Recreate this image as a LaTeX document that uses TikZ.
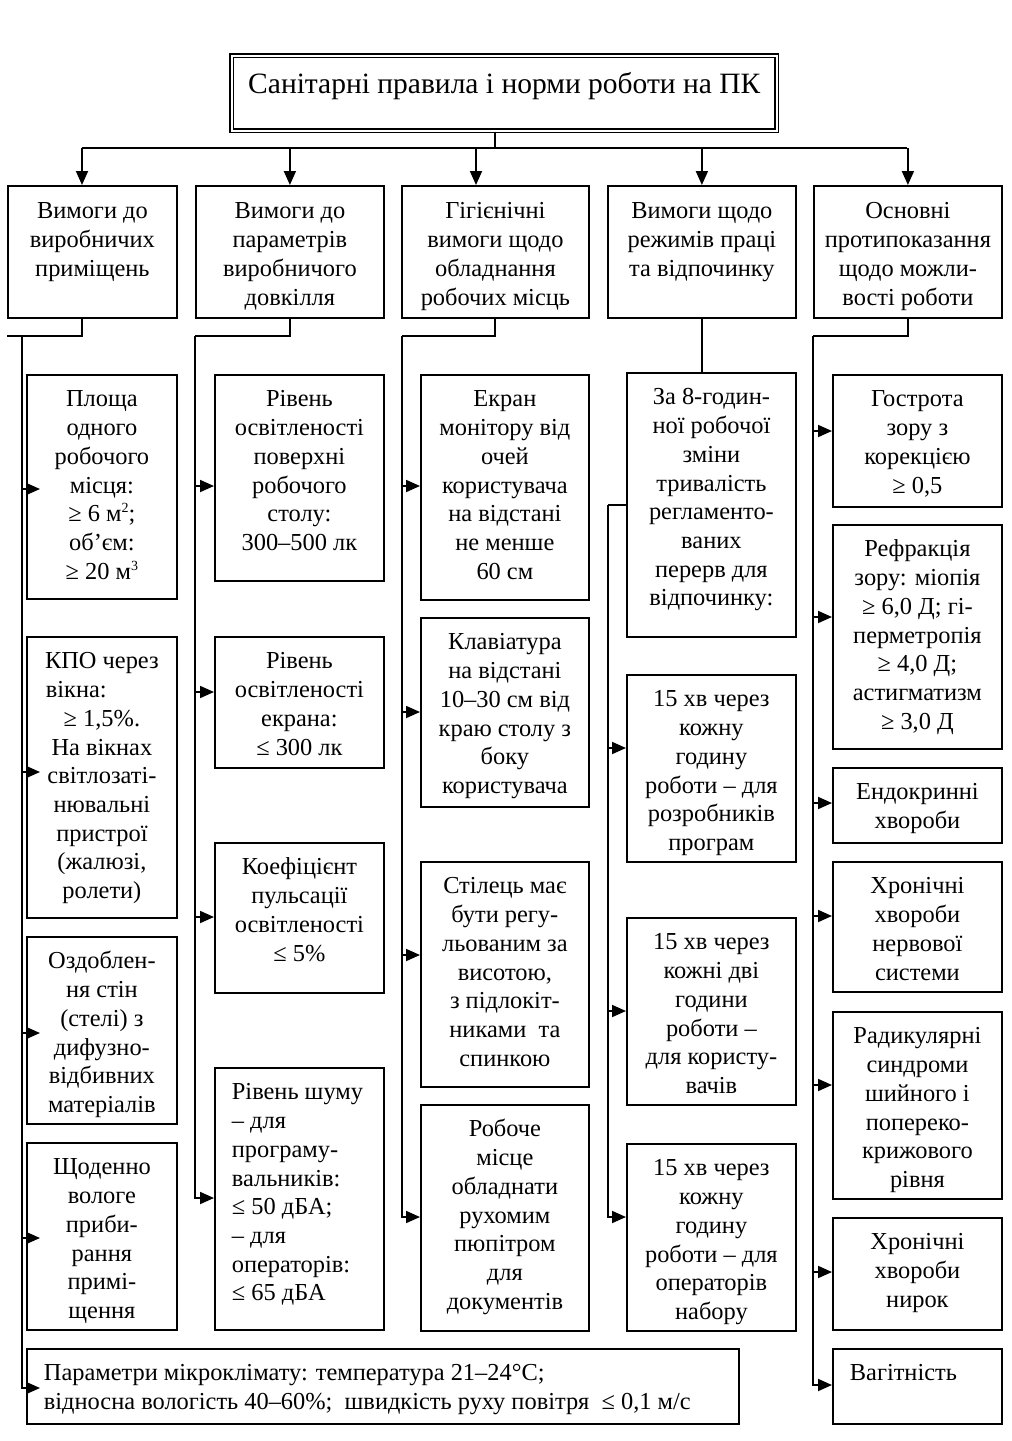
\documentclass[tikz,border=0pt]{standalone}
\usepackage{fontspec}
\setmainfont{Liberation Serif}
\usetikzlibrary{arrows.meta}
\newcommand{\bt}[4][32]{\parbox[c][#3pt][t]{#2pt}{\centering\hyphenpenalty=10000\exhyphenpenalty=10000\rule{0pt}{#1pt}#4}}
\newcommand{\btl}[4][32]{\parbox[c][#3pt][t]{#2pt}{\raggedright\leftskip=17pt\hyphenpenalty=10000\exhyphenpenalty=10000\rule{0pt}{#1pt}#4}}
\newcommand{\sups}[1]{\raisebox{9pt}{\fontsize{14pt}{14pt}\selectfont #1}}
\tikzset{
  bx/.style={draw, line width=1.8pt, inner sep=0pt, anchor=north west},
  ln/.style={line width=1.8pt},
  arr/.style={line width=1.8pt, -{Triangle[length=14pt,width=12pt]}}
}
\begin{document}
\begin{tikzpicture}[x=1pt, y=-1pt, font=\fontsize{24.4pt}{28.7pt}\selectfont]
\useasboundingbox (0,0) rectangle (1012,1441);
% title
\node[draw, double, line width=1.6pt, double distance=1.6pt, inner sep=0pt, anchor=north west] (title) at (231,55)
  {\parbox[c][75pt][t]{545pt}{\centering\fontsize{29.5pt}{34pt}\selectfont\rule{0pt}{38pt}Санітарні правила і норми роботи на ПК}};
% level 1
\node[bx] (b1) at (7,185)   {\bt[33]{169}{132}{Вимоги до\\виробничих\\приміщень}};
\node[bx] (b2) at (195,185) {\bt[33]{188}{132}{Вимоги до\\параметрів\\виробничого\\довкілля}};
\node[bx] (b3) at (401,185) {\bt[33]{187}{132}{Гігієнічні\\вимоги щодо\\обладнання\\робочих місць}};
\node[bx] (b4) at (607,185) {\bt[33]{188}{132}{Вимоги щодо\\режимів праці\\та відпочинку}};
\node[bx] (b5) at (813,185) {\bt[33]{188}{132}{Основні\\протипоказання\\щодо можли-\\вості роботи}};
% column 1
\node[bx] (p1) at (26,374)  {\bt{150}{224}{Площа\\одного\\робочого\\місця:\\≥ 6 м\sups{2};\\об’єм:\\≥ 20 м\sups{3}}};
\node[bx] (p2) at (26,636)  {\bt{150}{281}{КПО через\\\makebox[112pt][l]{вікна:}\\≥ 1,5\%.\\На вікнах\\світлозаті-\\нювальні\\пристрої\\(жалюзі,\\ролети)}};
\node[bx] (p3) at (26,936)  {\bt{150}{187}{Оздоблен-\\ня стін\\(стелі) з\\дифузно-\\відбивних\\матеріалів}};
\node[bx] (p4) at (26,1142) {\bt{150}{187}{Щоденно\\вологе\\приби-\\рання\\примі-\\щення}};
\node[bx] (pp) at (26,1348) {\btl{712}{75}{Параметри мікроклімату: температура 21–24°C;\\відносна вологість 40–60\%;\ \ швидкість руху повітря\ \ ≤ 0,1 м/с}};
% column 2
\node[bx] (q1) at (214,374)  {\bt{169}{206}{Рівень\\освітленості\\поверхні\\робочого\\столу:\\300–500 лк}};
\node[bx] (q2) at (214,636)  {\bt{169}{131}{Рівень\\освітленості\\екрана:\\≤ 300 лк}};
\node[bx] (q3) at (214,842)  {\bt{169}{150}{Коефіцієнт\\пульсації\\освітленості\\≤ 5\%}};
\node[bx] (q4) at (214,1067) {\btl{169}{262}{Рівень шуму\\– для\\програму-\\вальників:\\≤ 50 дБА;\\– для\\операторів:\\≤ 65 дБА}};
% column 3
\node[bx] (r1) at (420,374)  {\bt{168}{225}{Екран\\монітору від\\очей\\користувача\\на відстані\\не менше\\60 см}};
\node[bx] (r2) at (420,617)  {\bt{168}{189}{Клавіатура\\на відстані\\10–30 см від\\краю столу з\\боку\\користувача}};
\node[bx] (r3) at (420,861)  {\bt{168}{225}{Стілець має\\бути регу-\\льованим за\\висотою,\\з підлокіт-\\никами\ \ та\\спинкою}};
\node[bx] (r4) at (420,1104) {\bt{168}{226}{Робоче\\місце\\обладнати\\рухомим\\пюпітром\\для\\документів}};
% column 4
\node[bx] (s0) at (626,372)  {\bt{169}{264}{За 8-годин-\\ної робочої\\зміни\\тривалість\\регламенто-\\ваних\\перерв для\\відпочинку:}};
\node[bx] (s1) at (626,674)  {\bt{169}{187}{15 хв через\\кожну\\годину\\роботи – для\\розробників\\програм}};
\node[bx] (s2) at (626,917)  {\bt{169}{187}{15 хв через\\кожні дві\\години\\роботи –\\для користу-\\вачів}};
\node[bx] (s3) at (626,1143) {\bt{169}{187}{15 хв через\\кожну\\годину\\роботи – для\\операторів\\набору}};
% column 5
\node[bx] (t1) at (832,374)  {\bt{169}{132}{Гострота\\зору з\\корекцією\\≥ 0,5}};
\node[bx] (t2) at (832,524)  {\bt{169}{224}{Рефракція\\зору: міопія\\≥ 6,0 Д; гі-\\перметропія\\≥ 4,0 Д;\\астигматизм\\≥ 3,0 Д}};
\node[bx] (t3) at (832,767)  {\bt{169}{75}{Ендокринні\\хвороби}};
\node[bx] (t4) at (832,861)  {\bt{169}{130}{Хронічні\\хвороби\\нервової\\системи}};
\node[bx] (t5) at (832,1011) {\bt{169}{187}{Радикулярні\\синдроми\\шийного і\\попереко-\\крижового\\рівня}};
\node[bx] (t6) at (832,1217) {\bt{169}{112}{Хронічні\\хвороби\\нирок}};
\node[bx] (t7) at (832,1348) {\btl{169}{75}{Вагітність}};
% top connectors
\coordinate (bus) at (495,148);
\draw[ln] (title.south -| bus) -- (bus);
\draw[ln] (82,148) -- (907,148);
\draw[arr] (82,148) -- (b1.north -| 82,0);
\draw[arr] (b2.north |- bus) -- (b2.north);
\draw[arr] (476,148) -- (b3.north -| 476,0);
\draw[arr] (b4.north |- bus) -- (b4.north);
\draw[arr] (b5.north |- bus) -- (b5.north);
% column 1 connectors
\coordinate (c1) at (22,336);
\draw[ln] (b1.south -| 82,0) -- (82,336) -- (7,336);
\draw[arr, shorten >=-14pt] (c1) -- (c1 |- 0,1388) -- (pp.west |- 0,1388);
\draw[arr, shorten >=-14pt] (c1 |- 0,489) -- (p1.west |- 0,489);
\draw[arr, shorten >=-14pt] (c1 |- 0,772) -- (p2.west |- 0,772);
\draw[arr, shorten >=-14pt] (c1 |- 0,1033) -- (p3.west |- 0,1033);
\draw[arr, shorten >=-14pt] (c1 |- 0,1238) -- (p4.west |- 0,1238);
% column 2 connectors
\coordinate (c2) at (195,336);
\draw[ln] (b2.south) -- (b2.south |- c2) -- (c2);
\draw[arr] (c2) -- (c2 |- 0,1198) -- (q4.west |- 0,1198);
\draw[arr] (c2 |- 0,486) -- (q1.west |- 0,486);
\draw[arr] (c2 |- 0,692) -- (q2.west |- 0,692);
\draw[arr] (c2 |- 0,917) -- (q3.west |- 0,917);
% column 3 connectors
\coordinate (c3) at (402,336);
\draw[ln] (b3.south -| 495,0) -- (495,336) -- (c3);
\draw[arr] (c3) -- (c3 |- 0,1217) -- (r4.west |- 0,1217);
\draw[arr] (c3 |- 0,486) -- (r1.west |- 0,486);
\draw[arr] (c3 |- 0,712) -- (r2.west |- 0,712);
\draw[arr] (c3 |- 0,955) -- (r3.west |- 0,955);
% column 4 connectors
\coordinate (c4) at (608,505);
\draw[ln] (b4.south) -- (s0.north -| b4.south);
\draw[ln] (s0.west |- c4) -- (c4);
\draw[arr] (c4) -- (c4 |- 0,1217) -- (s3.west |- 0,1217);
\draw[arr] (c4 |- 0,748) -- (s1.west |- 0,748);
\draw[arr] (c4 |- 0,1011) -- (s2.west |- 0,1011);
% column 5 connectors
\coordinate (c5) at (813,336);
\draw[ln] (b5.south) -- (b5.south |- c5) -- (c5);
\draw[arr] (c5) -- (c5 |- 0,1385) -- (t7.west |- 0,1385);
\draw[arr] (c5 |- 0,431) -- (t1.west |- 0,431);
\draw[arr] (c5 |- 0,617) -- (t2.west |- 0,617);
\draw[arr] (c5 |- 0,803) -- (t3.west |- 0,803);
\draw[arr] (c5 |- 0,916) -- (t4.west |- 0,916);
\draw[arr] (c5 |- 0,1085) -- (t5.west |- 0,1085);
\draw[arr] (c5 |- 0,1272) -- (t6.west |- 0,1272);
\end{tikzpicture}
\end{document}
